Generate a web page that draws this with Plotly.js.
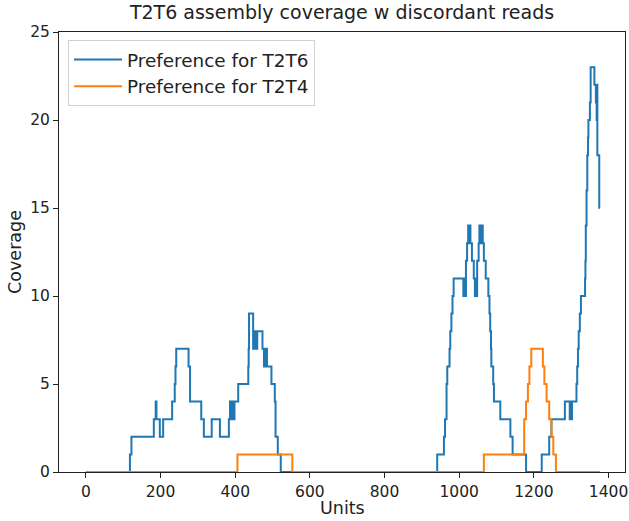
<!DOCTYPE html>
<html>
<head>
<meta charset="utf-8">
<script src="https://cdn.plot.ly/plotly-3.0.1.min.js"></script>
<style>html,body{margin:0;padding:0;background:#fff;}#chart{width:629px;height:521px;}</style>
</head>
<body>
<div id="chart"></div>
<script>
// Step breakpoints: value holds from x until next x
const t2t6_x = [0,118,122,182,187,189,198,207,231,238,240,242,275,279,309,316,337,359,383,386,388,390,392,394,396,398,408,435,436,437,448,450,452,454,456,459,473,477,479,481,483,485,497,506,508,514,522,
  941,959,962,966,968,974,976,979,982,985,1011,1013,1015,1018,1021,1024,1026,1027,1030,1034,1039,1042,1044,1046,1048,1052,1054,1058,1059,1063,1066,1071,1078,1081,1083,1085,1086,1091,1093,1110,1137,1143,1179,
  1221,1241,1247,1283,1296,1298,1300,1302,1314,1316,1318,1320,1323,1326,1337,1338,1339,1341,1343,1345,1346,1350,1352,1362,1366,1367,1368,1369,1370,1375,1376];
const t2t6_y = [0,1,2,3,4,3,2,3,4,5,6,7,6,4,3,2,3,2,3,4,3,4,3,4,3,4,5,6,7,9,7,8,7,8,7,8,7,6,7,6,7,6,5,4,2,1,0,
  1,2,3,5,6,7,8,9,10,11,10,11,10,12,13,14,13,14,13,12,11,10,11,10,12,13,14,13,14,13,12,11,10,9,8,7,6,5,4,3,2,1,0,
  1,2,3,4,3,4,3,4,5,6,7,8,9,10,11,12,14,16,18,19,20,21,23,22,21,22,20,22,18,15,15];

const t2t4_x = [0,406,553,1066,1174,1179,1184,1188,1193,1224,1228,1234,1241,1247,1252,1259,1377];
const t2t4_y = [0,1,0,1,3,4,5,6,7,6,5,4,3,2,1,0,0];

const seriesNames = ['Preference for T2T6','Preference for T2T4'];
const xTicks = [0,200,400,600,800,1000,1200,1400];
const yTicks = [0,5,10,15,20,25];

const font = 'DejaVu Sans, Verdana, sans-serif';
const traces = [
  {x:t2t6_x, y:t2t6_y, name:seriesNames[0], type:'scatter', mode:'lines',
   line:{color:'#1f77b4', width:2, shape:'hv'}},
  {x:t2t4_x, y:t2t4_y, name:seriesNames[1], type:'scatter', mode:'lines',
   line:{color:'#ff7f0e', width:2, shape:'hv'}}
];
const axisCommon = {showline:true, mirror:true, linecolor:'#222', linewidth:1,
  ticks:'outside', ticklen:5, tickcolor:'#222', tickwidth:1, showgrid:false, zeroline:false,
  tickfont:{family:font, size:15.5, color:'#222'}};
const layout = {
  width:629, height:521,
  margin:{l:59, r:4, t:32, b:49},
  paper_bgcolor:'#fff', plot_bgcolor:'#fff',
  title:{text:'T2T6 assembly coverage w discordant reads', font:{family:font, size:19, color:'#222'},
    x:0.5, xref:'paper', y:0.977, yref:'container', yanchor:'middle'},
  xaxis:Object.assign({}, axisCommon, {range:[-72,1444], tickvals:xTicks, ticktext:xTicks.map(String)}),
  yaxis:Object.assign({}, axisCommon, {range:[0,25], tickvals:yTicks, ticktext:yTicks.map(String),
    title:{text:'Coverage', font:{family:font, size:17.5, color:'#222'}, standoff:4}}),
  annotations:[{text:'Units', xref:'paper', yref:'paper', x:0.5, y:-0.082, xanchor:'center', yanchor:'middle',
    showarrow:false, font:{family:font, size:17.5, color:'#222'}}],
  legend:{x:0.016, y:0.982, xanchor:'left', yanchor:'top', bgcolor:'rgba(255,255,255,0.8)',
    bordercolor:'#d0d0d0', borderwidth:1, itemwidth:48, font:{family:font, size:18.4, color:'#222'}},
  showlegend:true
};
Plotly.newPlot('chart', traces, layout, {displayModeBar:false, staticPlot:true});
</script>
</body>
</html>
